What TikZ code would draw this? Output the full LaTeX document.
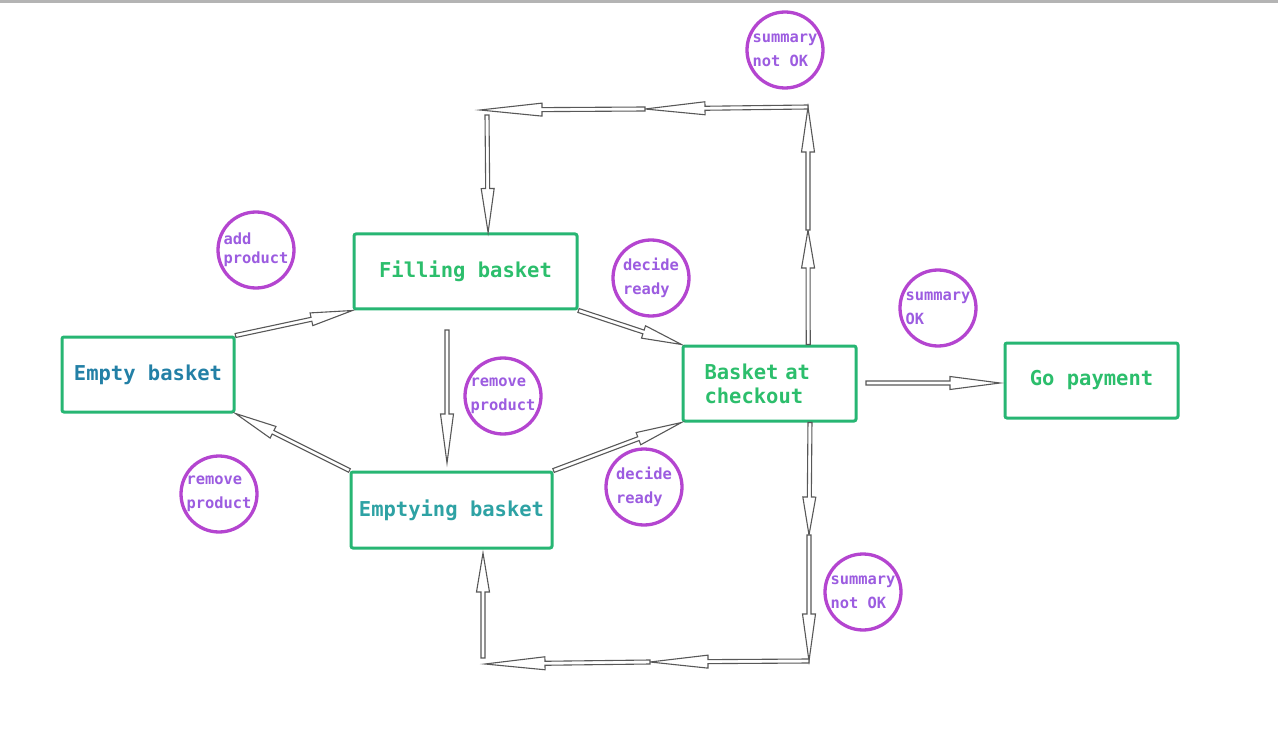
\documentclass[tikz,border=0pt]{standalone}
\usepackage{fontspec}
\setmonofont{DejaVu Sans Mono}
\usetikzlibrary{calc}
\definecolor{boxgreen}{HTML}{27B673}
\definecolor{textgreen}{HTML}{2CBE6C}
\definecolor{textblue}{HTML}{2380A6}
\definecolor{textteal}{HTML}{2EA2A4}
\definecolor{ringpurple}{HTML}{B445D0}
\definecolor{labelpurple}{HTML}{9C5CE0}
\definecolor{arrowgray}{HTML}{585858}
\definecolor{topgray}{HTML}{B4B4B4}
\tikzset{
	stagebox/.style = {draw = boxgreen, line width = 3pt, rounded corners = 2pt, minimum height = 75pt, inner sep = 0pt, text = textgreen, font = \ttfamily\bfseries\fontsize{20.5}{24}\selectfont},
	bubble/.style = {circle, draw = ringpurple, line width = 3.3pt, minimum size = 76pt, inner sep = 0pt, align = left, text = labelpurple, font = \ttfamily\bfseries\fontsize{15.4}{24}\selectfont},
	hollow/.style = {draw = arrowgray, line width = 1.1pt, fill = white, line join = miter}
}
\newcommand{\bigarrow}[3][40]{%
	\coordinate (hb) at ($(#3)!#1pt!(#2)$);
	\draw [hollow] ($(#2)!2pt!90:(#3)$) -- ($(hb)!2pt!90:(#3)$) -- ($(hb)!6.5pt!90:(#3)$) -- (#3) -- ($(hb)!6.5pt!-90:(#3)$) -- ($(hb)!2pt!-90:(#3)$) -- ($(#2)!2pt!-90:(#3)$) -- cycle;
}
\begin{document}
\begin{tikzpicture}[x = 1pt, y = -1pt]
		\useasboundingbox (0,0) rectangle (1278,746);
		\fill [topgray] (0,0) rectangle (1278,3);
		\node [stagebox, minimum width = 172pt, text = textblue](empty) at (148,374.5) {Empty basket};
		\node [stagebox, minimum width = 223pt](filling) at (465.5,271.5) {Filling basket};
		\node [stagebox, minimum width = 201pt, minimum height = 76pt, text = textteal](emptying) at (451.5,510) {Emptying basket};
		\node [stagebox, minimum width = 173pt, text width = 130pt, align = left, inner xsep = 21.5pt](checkout) at (769.5,383.5) {\mbox{Basket at}\\\mbox{checkout}};
		\node [stagebox, minimum width = 173pt](payment) at (1091.5,380.5) {Go payment};
		\node [bubble](add) at (256,250) {add\\[-5pt]product};
		\node [bubble](removetop) at (503,396) {remove\\product};
		\node [bubble](removebot) at (219,494) {remove\\product};
		\node [bubble](readytop) at (651,278) {decide\\ready};
		\node [bubble](readybot) at (644,487) {decide\\ready};
		\node [bubble](oktop) at (785,50) {summary\\not OK};
		\node [bubble](okmid) at (938,308) {summary\\OK};
		\node [bubble](okbot) at (863,592) {summary\\not OK};
		\coordinate (fdown) at (447,330);
		\coordinate (edown) at (447,463);
		\coordinate (gostart) at (866,383);
		\coordinate (goend) at (1000,383);
		\coordinate (cktop) at ($(checkout.north west)!0.72!(checkout.north east)$);
		\coordinate (upmid) at (808,230);
		\coordinate (topright) at (808,107);
		\coordinate (topmid) at (645,109);
		\coordinate (topleft) at (480,110);
		\coordinate (topleftdown) at (487,115);
		\coordinate (fillin) at ($(filling.north west)!0.6!(filling.north east)$);
		\coordinate (ckbot) at ($(checkout.south west)!0.73!(checkout.south east)$);
		\coordinate (dnmid) at (809,535);
		\coordinate (botright) at (809,661);
		\coordinate (botmid) at (650,662);
		\coordinate (botleft) at (485,664);
		\coordinate (botleftup) at (483,658);
		\coordinate (emptyin) at (483,553);
		\bigarrow[42]{empty.north east}{filling.south west}
		\bigarrow[42]{emptying.north west}{empty.south east}
		\bigarrow[49]{fdown}{edown}
		\bigarrow[40]{filling.south east}{checkout.north west}
		\bigarrow[46]{emptying.north east}{checkout.south west}
		\bigarrow[50]{gostart}{goend}
		\bigarrow[38]{cktop}{upmid}
		\bigarrow[45]{upmid}{topright}
		\bigarrow[60]{topright}{topmid}
		\bigarrow[62]{topmid}{topleft}
		\bigarrow[44]{topleftdown}{fillin}
		\bigarrow[38]{ckbot}{dnmid}
		\bigarrow[47]{dnmid}{botright}
		\bigarrow[58]{botright}{botmid}
		\bigarrow[60]{botmid}{botleft}
		\bigarrow[39]{botleftup}{emptyin}
\end{tikzpicture}
\end{document}
